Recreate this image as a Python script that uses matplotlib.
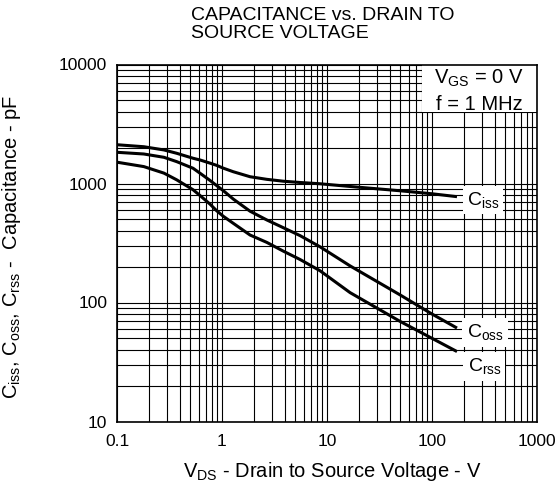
import numpy as np
import matplotlib
matplotlib.use('Agg')
import matplotlib.pyplot as plt
from matplotlib.patches import Rectangle
from matplotlib.ticker import FixedLocator, FixedFormatter, LogLocator, NullFormatter

plt.rcParams['font.family'] = ['Liberation Sans', 'DejaVu Sans']
plt.rcParams['mathtext.fontset'] = 'custom'
plt.rcParams['mathtext.rm'] = 'Liberation Sans'
plt.rcParams['mathtext.it'] = 'Liberation Sans'

# data (V, pF)
vds = [0.1, 0.18, 0.28, 0.37, 0.53, 0.62, 0.77, 0.89, 1.03, 1.28, 1.85, 2.67, 3.84, 5.53, 8.57, 16.6, 49.5, 100, 173]
ciss = [2117, 2037, 1914, 1795, 1630, 1575, 1482, 1420, 1345, 1256, 1140, 1084, 1045, 1020, 995, 944, 869, 820, 775]
coss = [1829, 1770, 1660, 1527, 1343, 1217, 1060, 960, 870, 740, 585, 494, 425, 365, 294, 203, 116, 80, 61]
crss = [1510, 1387, 1222, 1074, 886, 790, 670, 590, 530, 463, 369, 320, 270, 230, 185, 121, 69.5, 50, 38.7]

xticks = [0.1, 1, 10, 100, 1000]
xticklabels = ['0.1', '1', '10', '100', '1000']
yticks = [10, 100, 1000, 10000]
yticklabels = ['10', '100', '1000', '10000']

fig = plt.figure(figsize=(5.56, 4.88), dpi=100)
ax = fig.add_axes([117/556, 1-421.5/488, 420/556, 357/488])
ax.set_xscale('log')
ax.set_yscale('log')
ax.set_xlim(0.1, 1000)
ax.set_ylim(10, 10000)

ax.xaxis.set_major_locator(FixedLocator(xticks))
ax.xaxis.set_major_formatter(FixedFormatter(xticklabels))
ax.yaxis.set_major_locator(FixedLocator(yticks))
ax.yaxis.set_major_formatter(FixedFormatter(yticklabels))
ax.xaxis.set_minor_locator(LogLocator(base=10, subs=np.arange(2, 10)))
ax.yaxis.set_minor_locator(LogLocator(base=10, subs=np.arange(2, 10)))
ax.xaxis.set_minor_formatter(NullFormatter())
ax.yaxis.set_minor_formatter(NullFormatter())
ax.tick_params(which='both', length=0, labelsize=12.5)
ax.tick_params(axis='x', pad=9)
ax.tick_params(axis='y', pad=7)
ax.set_axisbelow(True)
ax.grid(True, which='both', color='black', lw=0.8)
for s in ax.spines.values():
    s.set_linewidth(1.2)

# white box behind the test-condition note
ax.add_patch(Rectangle((80, 4000), 1000-80, 10000-4000, facecolor='white',
                       edgecolor='none', zorder=2))
ax.text(0.862, 0.945, 'V$_{\\rm GS}$ = 0 V', transform=ax.transAxes,
        ha='center', va='baseline', fontsize=14.5, zorder=5)
ax.text(0.862, 0.8725, 'f = 1 MHz', transform=ax.transAxes,
        ha='center', va='baseline', fontsize=14.5, zorder=5)

for c in [ciss, coss, crss]:
    ax.plot(vds, c, color='black', lw=2.2, zorder=3, solid_capstyle='butt')

lbl_box = dict(facecolor='white', edgecolor='none', pad=3)
ax.text(305, 726, 'C$_{\\rm iss}$', fontsize=14, ha='center', va='center', bbox=lbl_box, zorder=5)
ax.text(320, 56, 'C$_{\\rm oss}$', fontsize=14, ha='center', va='center', bbox=lbl_box, zorder=5)
ax.text(316, 29, 'C$_{\\rm rss}$', fontsize=14, ha='center', va='center', bbox=lbl_box, zorder=5)

ax.set_xlabel('V$_{\\rm DS}$ - Drain to Source Voltage - V', fontsize=14.5, va='baseline')
ax.xaxis.set_label_coords(0.513, -0.1555)
ax.set_ylabel('C$_{\\rm iss}$, C$_{\\rm oss}$, C$_{\\rm rss}$ -  Capacitance - pF', fontsize=14.5)
ax.yaxis.set_label_coords(-0.224, 0.49)

fig.text(191/556, 1-7.5/488, 'CAPACITANCE vs. DRAIN TO\nSOURCE VOLTAGE', ha='left', va='top',
         fontsize=14, linespacing=1.06)

fig.savefig('out.png', dpi=100)
